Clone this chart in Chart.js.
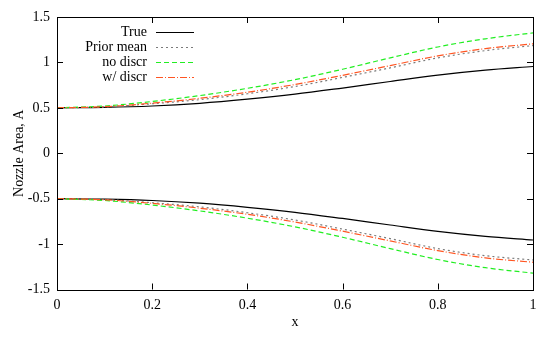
<!DOCTYPE html>
<html>
<head>
<meta charset="utf-8">
<script src="https://cdn.jsdelivr.net/npm/chart.js@4/dist/chart.umd.min.js"></script>
<style>
  html, body { margin: 0; padding: 0; background: #fff; }
  #wrap { width: 554px; height: 339px; }
</style>
</head>
<body>
<div id="wrap"><canvas id="grafico" width="554" height="339"></canvas></div>
<script>
// dados
const xs = [0, 0.1, 0.2, 0.3, 0.4, 0.5, 0.6, 0.7, 0.8, 0.9, 1.0];
const trueTop = [0.50, 0.505, 0.52, 0.55, 0.595, 0.65, 0.718, 0.79, 0.86, 0.915, 0.955];
const priorTop = [0.50, 0.51, 0.545, 0.59, 0.655, 0.735, 0.835, 0.94, 1.05, 1.13, 1.185];
const noDiscrTop = [0.50, 0.52, 0.57, 0.635, 0.715, 0.81, 0.925, 1.05, 1.17, 1.26, 1.325];
const wDiscrTop = [0.50, 0.512, 0.552, 0.605, 0.672, 0.757, 0.858, 0.965, 1.072, 1.152, 1.205];
const trueBot = [-0.50, -0.505, -0.52, -0.55, -0.595, -0.65, -0.718, -0.79, -0.86, -0.915, -0.955];
const priorBot = [-0.50, -0.51, -0.545, -0.59, -0.655, -0.735, -0.835, -0.94, -1.05, -1.128, -1.175];
const noDiscrBot = [-0.50, -0.52, -0.57, -0.635, -0.715, -0.81, -0.925, -1.05, -1.17, -1.26, -1.32];
const wDiscrBot = [-0.50, -0.512, -0.552, -0.605, -0.672, -0.757, -0.858, -0.965, -1.072, -1.152, -1.20];
const xTicks = [0, 0.2, 0.4, 0.6, 0.8, 1];
const xTickLabels = ["0", "0.2", "0.4", "0.6", "0.8", "1"];
const yTicks = [-1.5, -1, -0.5, 0, 0.5, 1, 1.5];
const yTickLabels = ["-1.5", "-1", "-0.5", "0", "0.5", "1", "1.5"];
const legendLabels = ["True", "Prior mean", "no discr", "w/ discr"];

const estilos = [
  { color: "#000000", dash: [] },
  { color: "#7a7a7a", dash: [2, 3] },
  { color: "#22ee22", dash: [5, 3] },
  { color: "#ff5522", dash: [7, 2, 1, 2] }
];

function pts(arr) {
  return xs.map((x, i) => ({ x: x, y: arr[i] }));
}

const series = [
  [trueTop, trueBot],
  [priorTop, priorBot],
  [noDiscrTop, noDiscrBot],
  [wDiscrTop, wDiscrBot]
];

const datasets = [];
series.forEach((par, k) => {
  par.forEach((arr) => {
    datasets.push({
      label: legendLabels[k],
      data: pts(arr),
      borderColor: estilos[k].color,
      borderDash: estilos[k].dash,
      borderWidth: 1.2,
      pointRadius: 0,
      fill: false,
      cubicInterpolationMode: "monotone",
      order: 4 - k
    });
  });
});

const fonte = "'Liberation Serif', 'DejaVu Serif', serif";

// moldura, ticks internos e legenda estilo gnuplot
const molduraPlugin = {
  id: "moldura",
  afterDraw(chart) {
    const ctx = chart.ctx;
    const a = chart.chartArea;
    const sx = chart.scales.x, sy = chart.scales.y;
    ctx.save();
    ctx.strokeStyle = "#000";
    ctx.lineWidth = 1;
    ctx.setLineDash([]);
    ctx.strokeRect(Math.round(a.left) + 0.5, Math.round(a.top) + 0.5,
      Math.round(a.right - a.left), Math.round(a.bottom - a.top));
    const t = 6;
    ctx.beginPath();
    xTicks.forEach(v => {
      const px = Math.round(sx.getPixelForValue(v)) + 0.5;
      ctx.moveTo(px, a.bottom); ctx.lineTo(px, a.bottom - t);
      ctx.moveTo(px, a.top); ctx.lineTo(px, a.top + t);
    });
    yTicks.forEach(v => {
      const py = Math.round(sy.getPixelForValue(v)) + 0.5;
      ctx.moveTo(a.left, py); ctx.lineTo(a.left + t, py);
      ctx.moveTo(a.right, py); ctx.lineTo(a.right - t, py);
    });
    ctx.stroke();

    // legenda
    ctx.font = "14px " + fonte;
    ctx.textAlign = "right";
    ctx.textBaseline = "middle";
    legendLabels.forEach((lab, i) => {
      const y = 32 + i * 15;
      ctx.fillStyle = "#000";
      ctx.fillText(lab, 147, y);
      ctx.strokeStyle = estilos[i].color;
      ctx.setLineDash(estilos[i].dash);
      ctx.lineWidth = 1.2;
      ctx.beginPath();
      ctx.moveTo(156, y + 0.5);
      ctx.lineTo(194, y + 0.5);
      ctx.stroke();
    });
    ctx.restore();
  }
};

new Chart(document.getElementById("grafico"), {
  type: "line",
  data: { datasets: datasets },
  options: {
    responsive: false,
    animation: false,
    layout: { padding: { left: 0, right: 21, top: 17, bottom: 0 } },
    plugins: { legend: { display: false }, tooltip: { enabled: false } },
    scales: {
      x: {
        type: "linear",
        min: 0, max: 1,
        afterBuildTicks: s => { s.ticks = xTicks.map(v => ({ value: v })); },
        afterFit: s => { s.height = 49.5; },
        grid: { display: false, drawTicks: false },
        border: { display: false },
        ticks: {
          padding: 7,
          color: "#000",
          font: { family: fonte, size: 14 },
          callback: (v) => xTickLabels[xTicks.indexOf(v)]
        },
        title: {
          display: true, text: "x", color: "#000",
          font: { family: fonte, size: 14 },
          padding: { top: 0, bottom: 8 }
        }
      },
      y: {
        type: "linear",
        min: -1.5, max: 1.5,
        afterBuildTicks: s => { s.ticks = yTicks.map(v => ({ value: v })); },
        afterFit: s => { s.width = 57; },
        grid: { display: false, drawTicks: false },
        border: { display: false },
        ticks: {
          padding: 7,
          color: "#000",
          font: { family: fonte, size: 14 },
          callback: (v) => yTickLabels[yTicks.indexOf(v)]
        },
        title: {
          display: true, text: "Nozzle Area, A", color: "#000",
          font: { family: fonte, size: 14 },
          padding: { top: 11, bottom: 0 }
        }
      }
    }
  },
  plugins: [molduraPlugin]
});
</script>
</body>
</html>
